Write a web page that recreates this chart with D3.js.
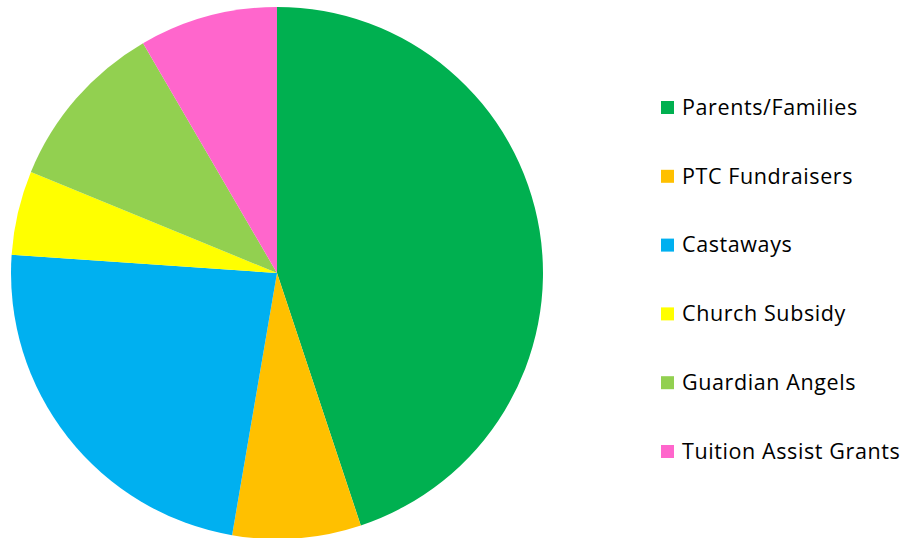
<!DOCTYPE html>
<html><head><meta charset="utf-8">
<script src="https://cdn.jsdelivr.net/npm/d3@7"></script>
<style>body{margin:0;background:#fff}svg{display:block}</style>
</head><body>
<script>
const categories = ["Parents/Families","PTC Fundraisers","Castaways","Church Subsidy","Guardian Angels","Tuition Assist Grants"];
const values = [44.9, 7.8, 23.4, 5.1, 10.4, 8.4];
const colors = ["#00B050","#FFC000","#00B0F0","#FFFF00","#92D050","#FF66CC"];

const W = 907, H = 538;
const svg = d3.select("body").append("svg").attr("width", W).attr("height", H);
const cx = 277, cy = 273, r = 266;
const data = categories.map((c,i)=>({c, v: values[i], col: colors[i]}));
const pie = d3.pie().value(d=>d.v).sort(null);
const arc = d3.arc().innerRadius(0).outerRadius(r);
const g = svg.append("g").attr("transform", `translate(${cx},${cy})`);
g.selectAll("path").data(pie(data)).join("path").attr("d", arc).attr("fill", d=>d.data.col);

const legY = d3.scalePoint().domain(categories).range([107, 451]);
const leg = svg.append("g");
const items = leg.selectAll("g").data(data).join("g").attr("transform", d=>`translate(661,${legY(d.c)})`);
items.append("rect").attr("x",0).attr("y",-6).attr("width",13).attr("height",13).attr("fill",d=>d.col);
items.append("text").attr("x",21).attr("y",0).attr("dy","0.36em")
  .attr("font-family","'Open Sans', sans-serif").attr("font-size",21.5).attr("letter-spacing",0.6).attr("fill","#000")
  .text(d=>d.c);
</script>
</body></html>
